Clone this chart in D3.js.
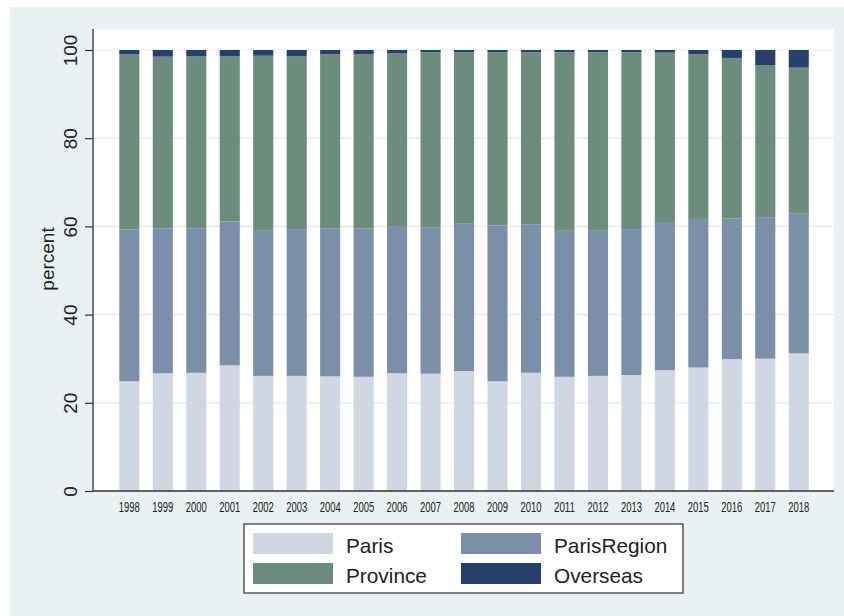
<!DOCTYPE html>
<html><head><meta charset="utf-8">
<script src="https://cdn.jsdelivr.net/npm/d3@7"></script>
<style>body{margin:0;background:#fff}svg{display:block}text{font-family:"Liberation Sans",Arial,sans-serif}</style>
</head><body><svg id="c" width="844" height="616"></svg>
<script>
const years = ["1998","1999","2000","2001","2002","2003","2004","2005","2006","2007","2008","2009","2010","2011","2012","2013","2014","2015","2016","2017","2018"];
const paris       = [24.9,26.7,26.8,28.5,26.1,26.1,26.0,25.9,26.7,26.6,27.2,24.9,26.8,25.9,26.1,26.3,27.4,28.0,29.9,30.0,31.2];
const parisRegion = [34.4,32.8,32.8,32.6,32.9,33.3,33.5,33.6,33.2,33.1,33.4,35.3,33.7,33.1,32.9,33.1,33.4,33.7,31.9,32.1,31.8];
const province    = [39.7,39.0,39.0,37.5,39.7,39.2,39.5,39.6,39.4,39.8,38.9,39.3,39.0,40.5,40.5,40.1,38.6,37.3,36.4,34.5,33.0];
const overseas    = [1.0,1.5,1.4,1.4,1.3,1.4,1.0,0.9,0.7,0.5,0.5,0.5,0.5,0.5,0.5,0.5,0.6,1.0,1.8,3.4,4.0];
const seriesNames = ["Paris","ParisRegion","Province","Overseas"];
const colors = ["#d0d6e2","#7b90a8","#6c8c7e","#273f6b"];
const yTicks = [0,20,40,60,80,100];

const svg = d3.select("#c");
svg.append("rect").attr("x",10).attr("y",7).attr("width",834).attr("height",609).attr("fill","#eaf1f3");
const L=93,R=834,T=29,B=491;
svg.append("rect").attr("x",L).attr("y",T).attr("width",R-L).attr("height",B-T).attr("fill","#fff");

const x = d3.scaleBand().domain(years).range([112.6,815.5]).paddingInner(0.4).paddingOuter(0.2);
const y = d3.scaleLinear().domain([0,100]).range([B,50]);

// grid
svg.append("g").selectAll("line").data(yTicks.slice(1)).join("line")
  .attr("x1",L).attr("x2",R).attr("y1",d=>y(d)).attr("y2",d=>y(d))
  .attr("stroke","#e2ecee").attr("stroke-width",1.2);

const table = years.map((yr,i)=>({year:yr,Paris:paris[i],ParisRegion:parisRegion[i],Province:province[i],Overseas:overseas[i]}));
const stacked = d3.stack().keys(seriesNames)(table);
svg.append("g").selectAll("g").data(stacked).join("g")
  .attr("fill",(d,i)=>colors[i])
  .selectAll("rect").data(d=>d).join("rect")
  .attr("x",d=>x(d.data.year)).attr("width",x.bandwidth())
  .attr("y",d=>y(Math.min(d[1],100))).attr("height",d=>y(d[0])-y(Math.min(d[1],100)));

// axes
const ya = svg.append("g").attr("transform",`translate(${L},0)`)
  .call(d3.axisLeft(y).tickValues(yTicks).tickSize(8).tickPadding(0).tickFormat(d3.format("d")));
ya.select(".domain").attr("d",`M0,${T}V${B}`).attr("stroke","#333").attr("stroke-width",1.3);
ya.selectAll(".tick line").attr("stroke","#333").attr("stroke-width",1.2);
ya.selectAll(".tick text").attr("font-size",19).attr("fill","#222").attr("text-anchor","middle")
  .attr("x",null).attr("dy",null).attr("transform","translate(-16,0) rotate(-90)");

const xa = svg.append("g").attr("transform",`translate(0,${B})`)
  .call(d3.axisBottom(x).tickSize(0).tickPadding(0));
xa.select(".domain").attr("d",`M${L},0H${R}`).attr("stroke","#333").attr("stroke-width",1.5);
xa.selectAll(".tick text").attr("font-size",14.5).attr("fill","#222").attr("y",21).attr("dy",null)
  .attr("textLength",21).attr("lengthAdjust","spacingAndGlyphs");

svg.append("text").attr("transform","translate(54,259) rotate(-90)").attr("text-anchor","middle")
  .attr("font-size",19).attr("fill","#222").text("percent");

// legend
const lg = svg.append("g");
lg.append("rect").attr("x",244).attr("y",524).attr("width",439).attr("height",69).attr("fill","#fff").attr("stroke","#333").attr("stroke-width",1.2);
const pos = [[253,533],[461,533],[253,563],[461,563]];
seriesNames.forEach((n,i)=>{
  lg.append("rect").attr("x",pos[i][0]).attr("y",pos[i][1]).attr("width",80).attr("height",21).attr("fill",colors[i]);
  lg.append("text").attr("x",pos[i][0]+93).attr("y",pos[i][1]+19.5).attr("font-size",20.8).attr("fill","#222").text(n);
});
</script></body></html>
